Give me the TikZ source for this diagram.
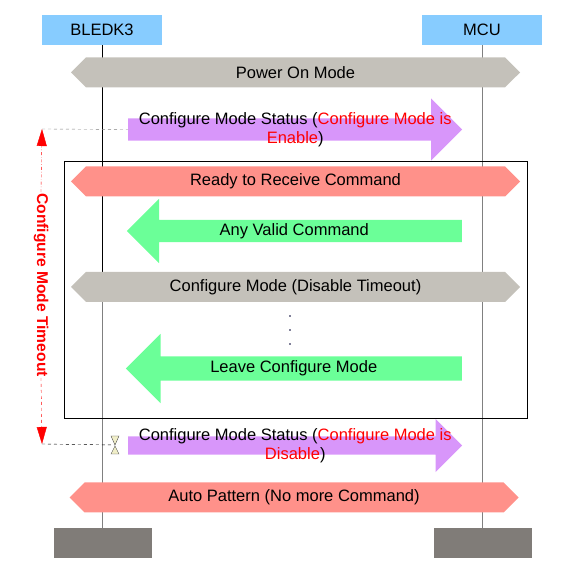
\documentclass[tikz,border=0pt]{standalone}
\usepackage{fontspec}
\setmainfont{Liberation Sans}
\usepackage{tikz}
\usetikzlibrary{shapes.symbols,shapes.arrows,arrows.meta,calc}
\definecolor{headblue}{RGB}{135,204,255}
\definecolor{footgray}{RGB}{128,124,120}
\definecolor{modegray}{RGB}{196,193,186}
\definecolor{salmon}{RGB}{255,145,138}
\definecolor{lilac}{RGB}{216,150,250}
\definecolor{mint}{RGB}{107,255,152}
\definecolor{khaki}{RGB}{240,238,200}

\begin{document}
\begin{tikzpicture}[x=1pt,y=-1pt]
            \tikzstyle{every node}=[font=\fontsize{16.5}{19}\selectfont]
            \tikzstyle{head}=[fill=headblue,minimum width=120pt,minimum height=30pt,inner sep=0pt]
            \tikzstyle{foot}=[fill=footgray,minimum width=98pt,minimum height=30pt,inner sep=0pt]
            \tikzstyle{phase}=[signal,signal to=east and west,minimum width=449pt,minimum height=30pt,inner sep=0pt]
            \tikzstyle{msg}=[single arrow,single arrow head indent=0pt,inner xsep=0pt,anchor=tail]
            \tikzstyle{lifeline}=[draw=gray,line width=0.8pt]
            \useasboundingbox (0,0) rectangle (582,572);
            % lifelines
            \node[head] (bledk) at (102,30) {BLEDK3};
            \node[head] (mcu) at (482,30) {MCU};
            \node[foot] (endL) at (103,543) {};
            \node[foot] (endR) at (483,543) {};
            \coordinate (bsplit) at (102,272);
            \draw[black,line width=0.8pt] (bledk.south) -- (bsplit);
            \draw[lifeline] (bsplit) -- (endL.north -| bsplit);
            \draw[lifeline] (mcu.south) -- (endR.north -| mcu.south);
            \draw[line width=0.8pt] (64,161) rectangle (527,418);
            % phases and messages
            \node[phase,fill=modegray] (poweron) at (295.5,72.5) {Power On Mode};
            \node[msg,fill=lilac,inner ysep=11pt,single arrow head extend=20pt,minimum width=62pt,minimum height=334pt] (status1) at (128,129.5) {};
            \node[align=center] at ($(status1.tail)!0.5!(status1.tip)$) {Configure Mode Status (\textcolor{red}{Configure Mode is}\\\textcolor{red}{Enable})};
            \node[phase,fill=salmon] (ready) at (295.5,181.5) {Ready to Receive Command};
            \node[msg,fill=mint,shape border rotate=180,inner ysep=11pt,single arrow head extend=21pt,minimum width=64pt,minimum height=335pt] (anycmd) at (462,231) {};
            \node at ($(anycmd.tail)!0.5!(anycmd.tip)$) {Any Valid Command};
            \node[phase,fill=modegray] (cfgmode) at (295.5,287) {Configure Mode (Disable Timeout)};
            \foreach \y in {316,330,344}
                \fill[black!80!blue] (290,\y) circle (0.8pt);
            \node[msg,fill=mint,shape border rotate=180,inner ysep=12pt,single arrow head extend=22.5pt,minimum width=69pt,minimum height=336pt] (leave) at (462,368.5) {};
            \node at ($(leave.tail)!0.5!(leave.tip)$) {Leave Configure Mode};
            \node[msg,fill=lilac,inner ysep=9pt,single arrow head extend=17.5pt,minimum width=53pt,minimum height=334pt] (status2) at (128,445.5) {};
            \node[align=center] at ($(status2.tail)!0.5!(status2.tip)$) {Configure Mode Status (\textcolor{red}{Configure Mode is}\\\textcolor{red}{Disable})};
            \node[phase,fill=salmon] (auto) at (294,497.5) {Auto Pattern (No more Command)};
            % timeout marker
            \node[rotate=-90,text=red,font=\fontsize{15.6}{18}\selectfont\bfseries,inner sep=1pt] (timeout) at (41,285) {Configure Mode Timeout};
            \coordinate (ttop) at (42,129);
            \coordinate (tbot) at (42,444);
            \coordinate (brk) at (115,445);
            \draw[red,dash dot,-{Triangle[length=17pt,width=10pt]}] (timeout.west) -- (ttop);
            \draw[red,dashed,-{Triangle[length=17pt,width=10pt]}] (timeout.east) -- (tbot);
            \draw[gray,dashed] (ttop) -- (status1.tail);
            \draw[black,dashed] (tbot) -- (brk);
            \filldraw[fill=khaki,draw=black!70] (brk) ++(-4,-9) -- ++(8,0) -- ++(-4,9) -- cycle;
            \filldraw[fill=khaki,draw=black!70] (brk) ++(0,1) -- ++(-4,8) -- ++(8,0) -- cycle;
        \end{tikzpicture}
\end{document}
